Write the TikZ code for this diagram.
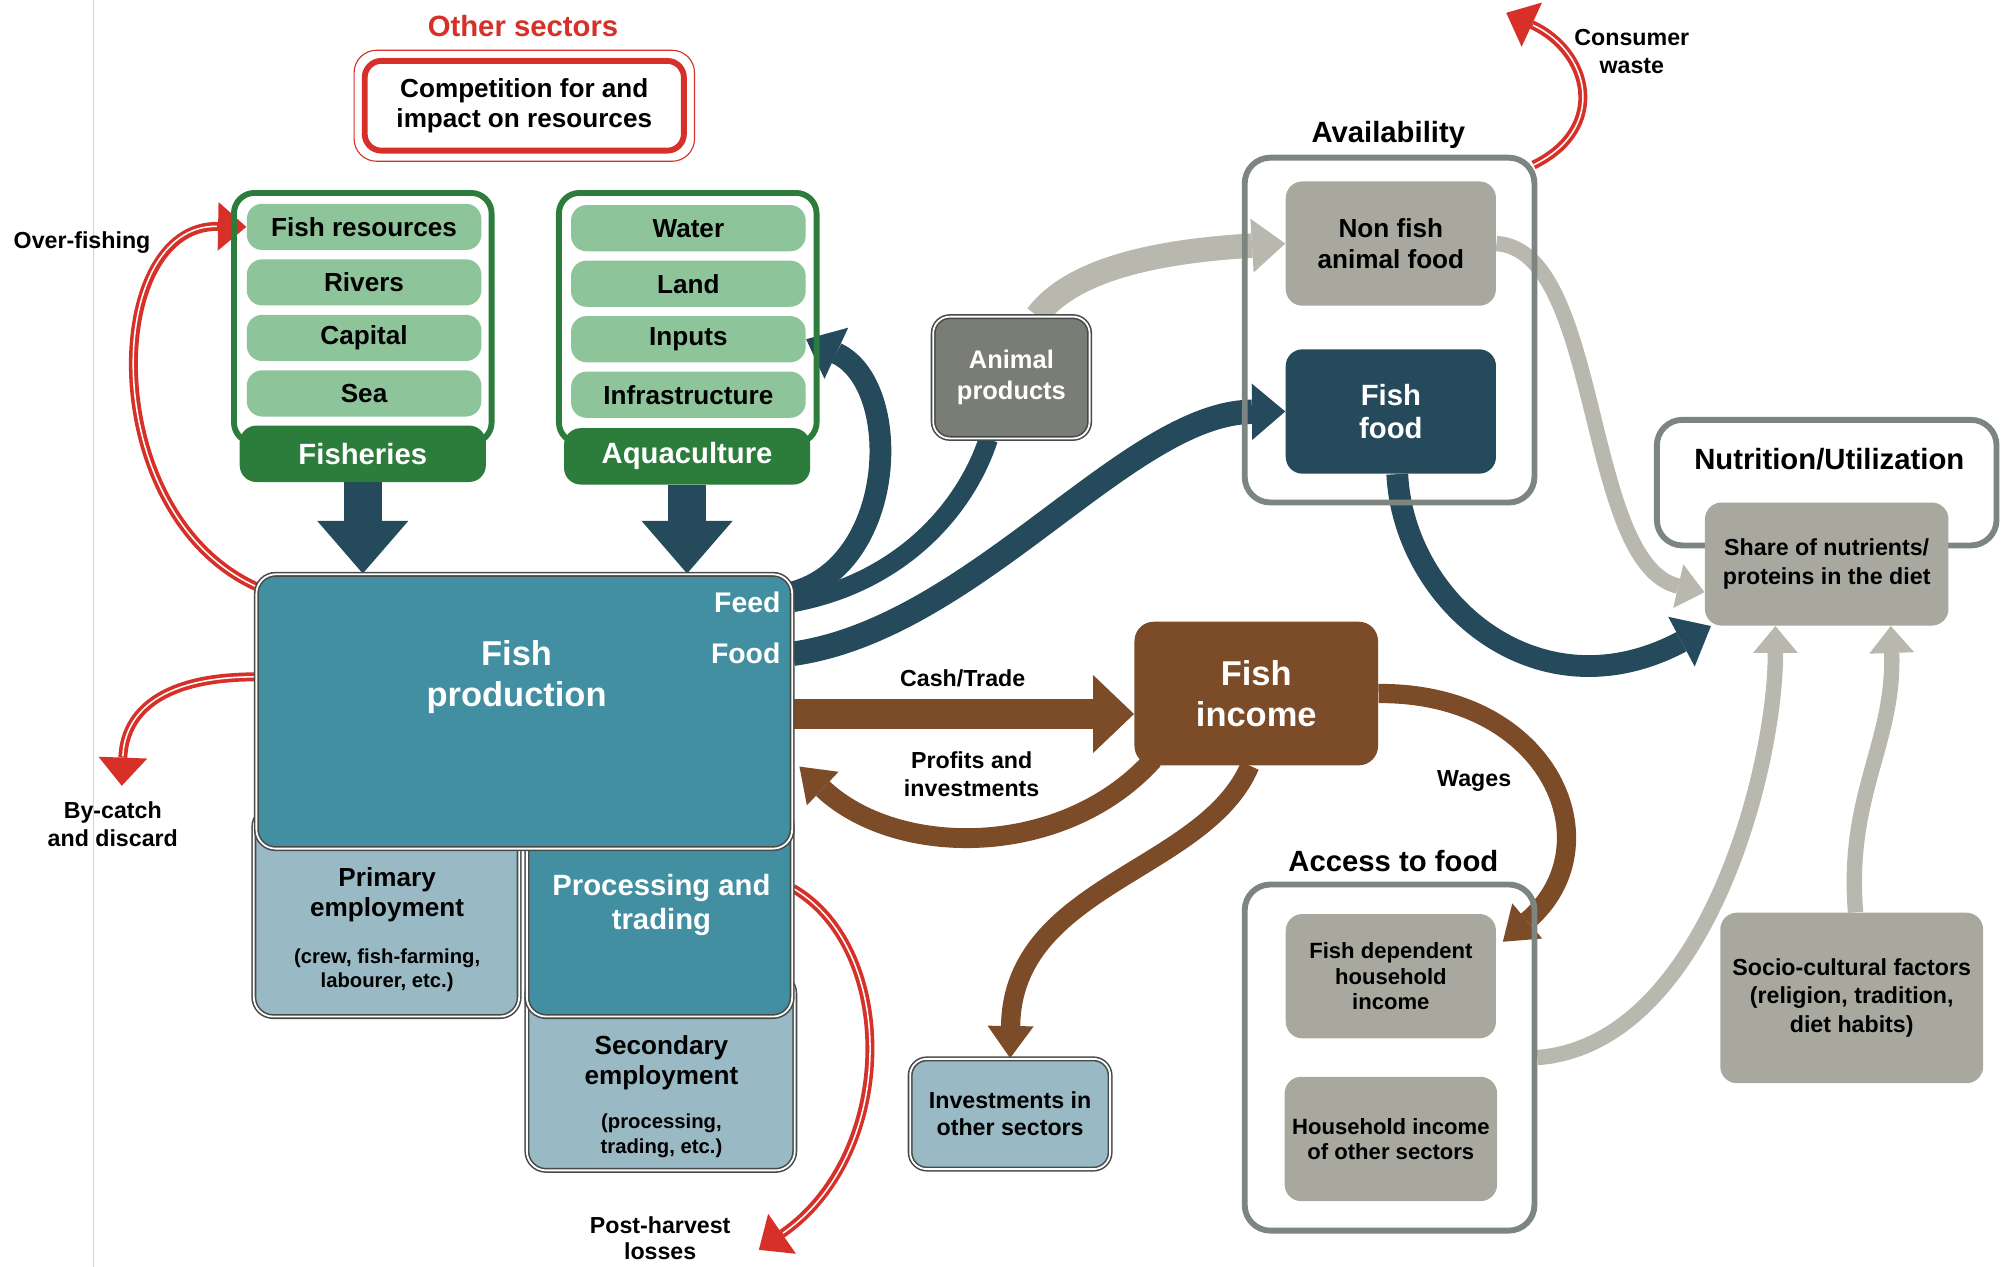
\documentclass[tikz,border=0pt]{standalone}
\usepackage{fontspec}
\setmainfont{Liberation Sans}
\usepackage{tikz}
\usetikzlibrary{arrows.meta, positioning, fit, backgrounds}

\definecolor{fishgreen}{RGB}{44,124,60}
\definecolor{pillgreen}{RGB}{141,196,153}
\definecolor{prodteal}{RGB}{65,143,161}
\definecolor{empblue}{RGB}{153,185,196}
\definecolor{navy}{RGB}{37,74,91}
\definecolor{incbrown}{RGB}{124,75,39}
\definecolor{boxgray}{RGB}{168,168,158}
\definecolor{animgray}{RGB}{121,125,117}
\definecolor{arrowgray}{RGB}{184,184,175}
\definecolor{framegray}{RGB}{124,133,127}
\definecolor{edgegray}{RGB}{70,74,72}
\definecolor{lossred}{RGB}{214,48,40}

\newcommand{\fntbig}{\fontsize{15.3}{18.2}\selectfont\bfseries}
\newcommand{\fnthead}{\fontsize{13}{14.8}\selectfont\bfseries}
\newcommand{\fntfeed}{\fontsize{12.6}{14}\selectfont\bfseries}
\newcommand{\fntmid}{\fontsize{11.6}{13.7}\selectfont\bfseries}
\newcommand{\fntanim}{\fontsize{11.3}{13.7}\selectfont\bfseries}
\newcommand{\fntsmall}{\fontsize{10.3}{12.5}\selectfont\bfseries}
\newcommand{\fntinv}{\fontsize{10.3}{12}\selectfont\bfseries}
\newcommand{\fntdep}{\fontsize{9.8}{11.4}\selectfont\bfseries}
\newcommand{\fntnote}{\fontsize{9}{10.8}\selectfont\bfseries}

\tikzstyle{pill} = [rectangle, rounded corners=2.4mm, minimum width=36.6mm, minimum height=7.2mm, fill=pillgreen, text centered, font=\fntmid]
\tikzstyle{sectorframe} = [rectangle, rounded corners=3.2mm, draw=fishgreen, line width=2.6pt, minimum width=40.2mm, minimum height=39mm]
\tikzstyle{sectorbar} = [rectangle, rounded corners=2.6mm, minimum width=38.4mm, minimum height=8.8mm, fill=fishgreen, text=white, font=\fnthead]
\tikzstyle{competebox} = [rectangle, rounded corners=2.6mm, draw=lossred, line width=2.6pt, minimum width=49.8mm, minimum height=14mm, align=center, font=\fntmid]
\tikzstyle{prodbox} = [rectangle, rounded corners=3mm, fill=prodteal, draw=edgegray, line width=0.7pt, double=white, double distance=0.8pt]
\tikzstyle{empbox} = [prodbox, fill=empblue]
\tikzstyle{animalbox} = [rectangle, rounded corners=2.6mm, fill=animgray, draw=edgegray, line width=0.7pt, double=white, double distance=0.8pt, minimum width=24.4mm, minimum height=19mm, text=white, font=\fntanim, align=center]
\tikzstyle{investbox} = [animalbox, fill=empblue, text=black, font=\fntinv, minimum width=31.2mm, minimum height=17.2mm]
\tikzstyle{incomebox} = [rectangle, rounded corners=3mm, fill=incbrown, minimum width=38mm, minimum height=22.4mm, text=white, font=\fntbig, align=center]
\tikzstyle{groupframe} = [rectangle, rounded corners=4mm, draw=framegray, line width=2.6pt, minimum width=45.2mm]
\tikzstyle{graybox} = [rectangle, rounded corners=2.6mm, fill=boxgray, minimum width=32.8mm, minimum height=19.4mm, align=center, font=\fntmid]
\tikzstyle{flowlabel} = [font=\fntsmall, align=center]
\tikzstyle{bigdown} = [draw=navy, line width=6mm, -{Triangle[length=8.2mm, width=14.2mm, line width=0pt]}]
\tikzstyle{cashflow} = [draw=incbrown, line width=4.7mm, -{Triangle[length=6.4mm, width=12.2mm, line width=0pt]}]
\tikzstyle{navyarrow} = [draw=navy, line width=3.8mm, -{Triangle[length=5.2mm, width=8.8mm, line width=0pt]}]
\tikzstyle{navyline} = [draw=navy, line width=3mm]
\tikzstyle{grayarrow} = [draw=arrowgray, line width=3.8mm, -{Triangle[length=5.2mm, width=8.4mm, line width=0pt]}]
\tikzstyle{thingray} = [draw=arrowgray, line width=2.4mm, -{Triangle[length=4.2mm, width=7mm, line width=0pt]}]
\tikzstyle{brownarrow} = [draw=incbrown, line width=3.1mm, -{Triangle[length=5mm, width=7.2mm, line width=0pt]}]
\tikzstyle{lossarrow} = [draw=lossred, line width=1.4mm, -{Triangle[length=4.4mm, width=7.6mm, line width=0pt]}, postaction={draw=white, line width=0.24mm, -, shorten >=4.6mm}]

\begin{document}
\begin{tikzpicture}[x=0.2mm, y=-0.2mm, node distance=8.66mm]
\useasboundingbox (0,0) rectangle (1568,988);

\draw[gray!35, line width=0.4pt] (73,0) -- (73,988);

% other sectors
\node (othersec) at (408,20) [font=\fnthead, text=lossred] {Other sectors};
\node (compete) at (409,82.5) [competebox] {Competition for and\\impact on resources};
\node (competeframe) [fit=(compete), inner sep=1.2mm, draw=lossred, line width=0.5pt, rounded corners=3.5mm] {};

% fisheries
\node (fishframe) at (283,248) [sectorframe] {};
\node (fishres) at (284,177) [pill] {Fish resources};
\node (rivers) [pill, below of=fishres] {Rivers};
\node (capital) [pill, below of=rivers] {Capital};
\node (sea) [pill, below of=capital] {Sea};
\node (fisheries) at (283,354) [sectorbar] {Fisheries};

% aquaculture
\node (aquaframe) at (536.5,248) [sectorframe] {};
\node (water) at (537,178) [pill] {Water};
\node (land) [pill, below of=water] {Land};
\node (inputs) [pill, below of=land] {Inputs};
\node (infra) [pill, below of=inputs] {Infrastructure};
\node (aquaculture) at (536,356) [sectorbar] {Aquaculture};

% production and employment
\node (secondary) at (515.5,836.5) [empbox, minimum width=41.8mm, minimum height=30.6mm] {};
\node (processing) at (514.5,711.5) [prodbox, minimum width=41.4mm, minimum height=32.6mm] {};
\node (primary) at (301.5,711.5) [empbox, minimum width=41.4mm, minimum height=32.6mm] {};
\node (fishprod) at (409,555) [prodbox, minimum width=83.6mm, minimum height=42.8mm] {};
\node (prodtitle) at (403,528) [font=\fntbig, text=white, align=center] {Fish\\production};
\node (feedlabel) at (615,470) [anchor=east, font=\fntfeed, text=white] {Feed};
\node (foodlabel) at (615,510) [anchor=east, font=\fntfeed, text=white] {Food};
\node (primtitle) at (302,698) [font=\fntmid, align=center] {Primary\\employment};
\node (primnote) at (302,757) [font=\fntnote, align=center] {(crew, fish-farming,\\labourer, etc.)};
\node (proctitle) at (516,706) [font=\fnthead, text=white, align=center] {Processing and\\trading};
\node (sectitle) at (516,829) [font=\fntmid, align=center] {Secondary\\employment};
\node (secnote) at (516,886) [font=\fntnote, align=center] {(processing,\\trading, etc.)};

% availability
\node (animal) at (789,294.5) [animalbox] {Animal\\products};
\node (availframe) at (1084,257.5) [groupframe, minimum height=53.8mm] {};
\node (availtitle) at (1083,105) [font=\fnthead] {Availability};
\node (nonfish) at (1085,190) [graybox] {Non fish\\animal food};
\node (fishfood) at (1085,321) [graybox, fill=navy, text=white, font=\fnthead] {Fish\\food};

% nutrition
\node (nutriframe) at (1425,376.5) [groupframe, minimum width=53mm, minimum height=19.6mm] {};
\node (nutrititle) at (1427,358) [font=\fnthead] {Nutrition/Utilization};
\node (share) at (1425,440) [graybox, minimum width=38mm, minimum height=19.2mm, font=\fntsmall] {Share of nutrients/\\proteins in the diet};

% income and access
\node (fishinc) at (980,541) [incomebox] {Fish\\income};
\node (invest) at (788,869) [investbox] {Investments in\\other sectors};
\node (accessframe) at (1084,825) [groupframe, minimum height=54mm] {};
\node (accesstitle) at (1087,672) [font=\fnthead] {Access to food};
\node (fishdep) at (1085,761.5) [graybox, font=\fntdep] {Fish dependent\\household\\income};
\node (otherinc) at (1085,888.5) [graybox, font=\fntdep] {Household income\\of other sectors};
\node (socio) at (1444.5,778.5) [graybox, minimum width=41mm, minimum height=26.6mm, font=\fntsmall] {Socio-cultural factors\\(religion, tradition,\\diet habits)};

% flow labels
\node (overfish) at (64,189) [flowlabel] {Over-fishing};
\node (bycatch) at (88,643) [flowlabel] {By-catch\\and discard};
\node (postharvest) at (515,966) [flowlabel, font=\fontsize{10.3}{11.4}\selectfont\bfseries] {Post-harvest\\losses};
\node (consumer) at (1273,40) [flowlabel] {Consumer\\waste};
\node (cashlabel) at (751,529) [flowlabel] {Cash/Trade};
\node (profitlabel) at (758,604) [flowlabel] {Profits and\\investments};
\node (wagelabel) at (1150,609) [flowlabel] {Wages};

\coordinate (bycatchend) at (95,613);
\coordinate (lossend) at (592,975);
\coordinate (wasteend) at (1175,10);

\begin{scope}[on background layer]
\fill[white] (0,0) rectangle (1568,988);
\draw[bigdown] (fisheries.south) -- (fisheries.south |- fishprod.north);
\draw[bigdown] (aquaculture.south) -- (aquaculture.south |- fishprod.north);
\draw[cashflow] ([yshift=-0.4mm]fishprod.east) -- ([yshift=-0.4mm]fishprod.east -| fishinc.west);

\draw[navyarrow, line width=3.4mm] ([yshift=1.6mm]fishprod.east |- feedlabel) .. controls (700,440) and (705,300) .. (inputs.east);
\draw[navyline] (fishprod.east |- feedlabel) .. controls (700,455) and (752,400) .. ([xshift=-3.6mm]animal.south);
\draw[navyarrow] (fishprod.east |- foodlabel) .. controls (760,490) and (880,322) .. (fishfood.west);
\draw[navyarrow, line width=3.4mm] ([xshift=1mm]fishfood.south) .. controls (1095,470) and (1200,560) .. ([xshift=1mm]share.south west);

\draw[grayarrow] ([xshift=4mm]animal.north) .. controls (840,205) and (920,195) .. (nonfish.west);
\draw[thingray] (nonfish.east) .. controls (1250,195) and (1235,440) .. ([yshift=-4.4mm]share.west);
\draw[thingray] (accessframe.east) .. controls (1330,815) and (1385,600) .. ([xshift=-8mm]share.south);
\draw[thingray] ([xshift=0.6mm]socio.north) .. controls (1440,620) and (1478,580) .. ([xshift=10mm]share.south);

\draw[brownarrow] ([xshift=3mm,yshift=1mm]fishinc.south west) .. controls (830,670) and (700,670) .. ([xshift=1mm,yshift=-8.6mm]fishprod.east);
\draw[brownarrow, line width=3mm] ([xshift=-1mm]fishinc.south) .. controls (940,680) and (790,690) .. (invest.north);
\draw[brownarrow, line width=3mm] (fishinc.east) .. controls (1210,540) and (1260,660) .. ([xshift=1mm,yshift=-4.4mm]fishdep.north east);

\draw[lossarrow] ([yshift=-2mm]fishprod.north west) .. controls (75,400) and (80,175) .. (fishres.west);
\draw[lossarrow] ([yshift=5.4mm]fishprod.west) .. controls (120,528) and (97,560) .. (bycatchend);
\draw[lossarrow] ([yshift=3.7mm]processing.east) .. controls (700,740) and (700,900) .. (lossend);
\draw[lossarrow] ([xshift=-0.6mm,yshift=-1.6mm]availframe.north east) .. controls (1255,100) and (1240,40) .. (wasteend);
\end{scope}

\end{tikzpicture}
\end{document}
